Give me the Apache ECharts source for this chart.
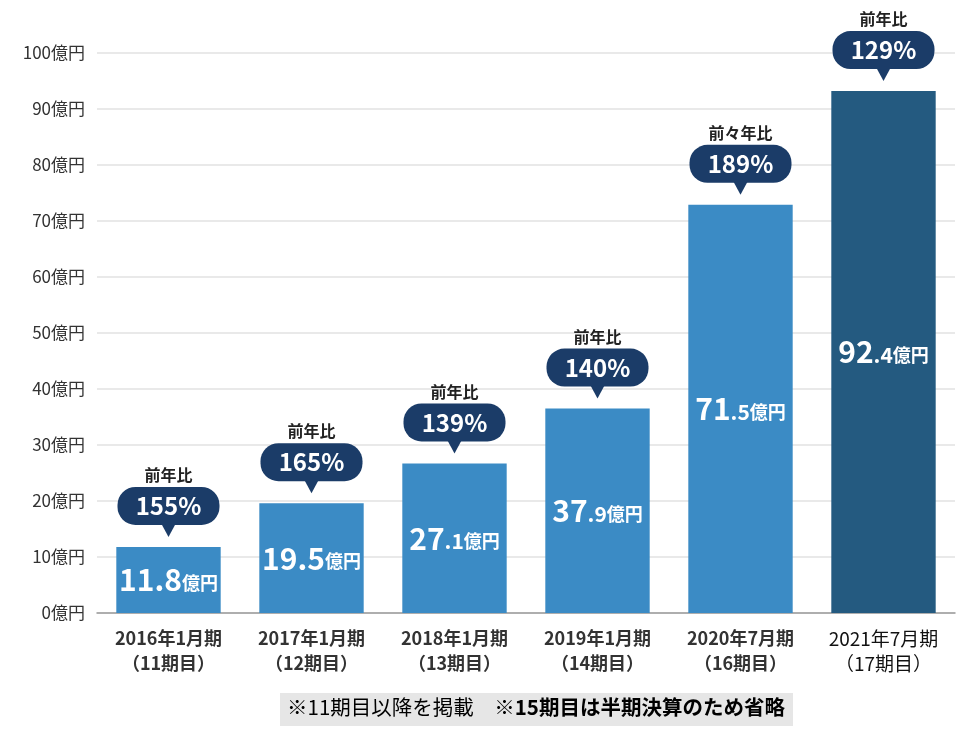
<!DOCTYPE html>
<html><head><meta charset="utf-8">
<script src="https://cdn.jsdelivr.net/npm/echarts@6/dist/echarts.min.js"></script>
<style>html,body{margin:0;padding:0;background:#fff}#c{width:974px;height:738px}</style>
</head><body><div id="c"></div>
<script>
const categories = ['2016年1月期\n（11期目）','2017年1月期\n（12期目）','2018年1月期\n（13期目）','2019年1月期\n（14期目）','2020年7月期\n（16期目）','2021年7月期\n（17期目）'];
const barHeights = [11.8, 19.6, 26.7, 36.5, 72.9, 93.2];
const salesLabels = ['11.8','19.5','27.1','37.9','71.5','92.4'];
const growthRates = ['155%','165%','139%','140%','189%','129%'];
const growthTitles = ['前年比','前年比','前年比','前年比','前々年比','前年比'];
const yMin = 0, yMax = 100, yStep = 10;
const noteA = '※11期目以降を掲載　';
const noteB = '※15期目は半期決算のため省略';

const FF = '"Noto Sans CJK JP", "Noto Sans", sans-serif';
const LIGHT = '#3b8bc5', DARK = '#245a80', NAVY = '#1b3c68';

const chart = echarts.init(document.getElementById('c'));
chart.setOption({
  animation: false,
  backgroundColor: '#fff',
  grid: { left: 97, right: 19, top: 53, bottom: 125, containLabel: false },
  xAxis: {
    type: 'category', data: categories,
    axisTick: { show: false },
    axisLine: { lineStyle: { color: '#9a9a9a', width: 1.5 } },
    axisLabel: {
      margin: 13, interval: 0,
      formatter: (v, i) => i === categories.length - 1 ? '{n|' + v.replace('\n', '}\n{n|') + '}' : '{b|' + v.replace('\n', '}\n{b|') + '}',
      rich: {
        b: { fontFamily: FF, fontSize: 18, fontWeight: 'bold', color: '#333', lineHeight: 25 },
        n: { fontFamily: FF, fontSize: 19, fontWeight: 'normal', color: '#111', lineHeight: 25 }
      }
    }
  },
  yAxis: {
    type: 'value', min: yMin, max: yMax, interval: yStep,
    axisLine: { show: false }, axisTick: { show: false },
    axisLabel: { margin: 12, formatter: '{value}億円', fontFamily: FF, fontSize: 17, color: '#333' },
    splitLine: { lineStyle: { color: '#e2e2e2', width: 1.5 } }
  },
  series: [
    {
      type: 'bar', barCategoryGap: '27%',
      data: barHeights.map((v, i) => ({ value: v, itemStyle: { color: i === barHeights.length - 1 ? DARK : LIGHT } })),
      label: {
        show: true, position: 'inside',
        formatter: p => {
          const parts = salesLabels[p.dataIndex].split('.');
          if (p.dataIndex < 2) return '{a|' + parts[0] + '.' + parts[1] + '}{u|億円}';
          return '{a|' + parts[0] + '}{d|.' + parts[1] + '}{u|億円}';
        },
        rich: {
          a: { fontFamily: FF, fontSize: 30, fontWeight: 'bold', color: '#fff' },
          d: { fontFamily: FF, fontSize: 21, fontWeight: 'bold', color: '#fff', padding: [6, 0, 0, 0] },
          u: { fontFamily: FF, fontSize: 18, fontWeight: 'bold', color: '#fff', padding: [6, 0, 0, 0] }
        }
      }
    },
    {
      type: 'custom', coordinateSystem: 'cartesian2d', silent: true, z: 5,
      encode: { x: 0, y: 1 },
      data: barHeights.map((v, i) => [i, v]),
      renderItem: (params, api) => {
        const i = params.dataIndex;
        const p = api.coord([api.value(0), api.value(1)]);
        const x = p[0], y = p[1];
        const w = 102;
        return {
          type: 'group',
          children: [
            { type: 'rect', shape: { x: x - w / 2, y: y - 60, width: w, height: 38, r: 18 }, style: { fill: NAVY } },
            { type: 'polygon', shape: { points: [[x - 7, y - 23], [x + 7, y - 23], [x, y - 10]] }, style: { fill: NAVY } },
            { type: 'text', style: { text: growthRates[i], x: x, y: y - 41, align: 'center', verticalAlign: 'middle', fill: '#fff', fontFamily: FF, fontSize: 24, fontWeight: 'bold' } },
            { type: 'text', style: { text: growthTitles[i], x: x, y: y - 72, align: 'center', verticalAlign: 'middle', fill: '#222', fontFamily: FF, fontSize: 16, fontWeight: 'bold' } }
          ]
        };
      }
    }
  ],
  graphic: [
    { type: 'rect', left: 280, top: 693, shape: { width: 513, height: 33 }, style: { fill: '#e6e6e6' } },
    {
      type: 'text', left: 287, top: 697,
      style: {
        text: '{a|' + noteA + '}{b|' + noteB + '}',
        rich: {
          a: { fontFamily: FF, fontSize: 20.5, color: '#222' },
          b: { fontFamily: FF, fontSize: 20.5, fontWeight: 'bold', color: '#222' }
        }
      }
    }
  ]
});
</script></body></html>
